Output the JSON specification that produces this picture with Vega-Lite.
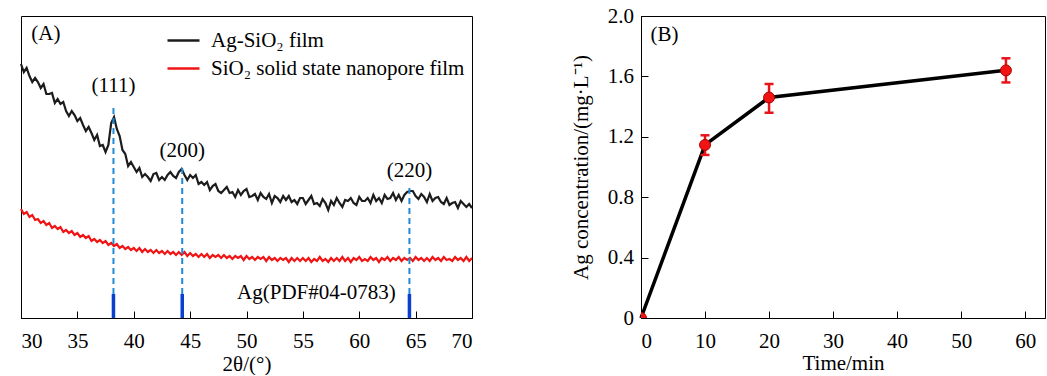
{
"$schema":"https://vega.github.io/schema/vega-lite/v6.json",
"padding":{"left":16,"top":4,"right":0,"bottom":0},
"spacing":92,
"config":{"font":"Liberation Serif","view":{"stroke":"black","strokeWidth":1},
"axis":{"labelFont":"Liberation Serif","labelFontSize":21,"labelColor":"black","titleFont":"Liberation Serif","titleFontSize":21,"titleFontWeight":"normal","titleColor":"black","domainColor":"black","tickColor":"black","grid":false,"tickSize":-7,"titlePadding":4},
"axisX":{"labelPadding":19},
"axisY":{"labelPadding":14.5},
"text":{"font":"Liberation Serif","fontSize":21,"color":"black"}},
"hconcat":[
{"width":451,"height":302,
"data":{"values":[{"pos":38.2,"b":0,"lo":24,"hi":214,"ly":232,"lab":"(111)"},{"pos":44.3,"b":0,"lo":24,"hi":150,"ly":167,"lab":"(200)"},{"pos":64.45,"b":0,"lo":24,"hi":134,"ly":147,"lab":"(220)"}]},
"layer":[
{"data":{"values":[
{"x":30,"Ag":254,"Si":109},{"x":30.25,"Ag":246,"Si":104},{"x":30.5,"Ag":250,"Si":106},{"x":30.75,"Ag":242,"Si":101},
{"x":31,"Ag":236,"Si":103},{"x":31.25,"Ag":240,"Si":98},{"x":31.5,"Ag":236,"Si":99},{"x":31.75,"Ag":230,"Si":95},
{"x":32,"Ag":234,"Si":97},{"x":32.25,"Ag":224,"Si":93},{"x":32.5,"Ag":224,"Si":95},{"x":32.75,"Ag":225,"Si":90},
{"x":33,"Ag":215,"Si":92},{"x":33.25,"Ag":219,"Si":89},{"x":33.5,"Ag":214,"Si":91},{"x":33.75,"Ag":216,"Si":86},
{"x":34,"Ag":207,"Si":88},{"x":34.25,"Ag":202,"Si":85},{"x":34.5,"Ag":207,"Si":87},{"x":34.75,"Ag":203,"Si":83},
{"x":35,"Ag":197,"Si":85},{"x":35.25,"Ag":200,"Si":81},{"x":35.5,"Ag":193,"Si":83},{"x":35.75,"Ag":187,"Si":80},
{"x":36,"Ag":191,"Si":82},{"x":36.25,"Ag":185,"Si":77},{"x":36.5,"Ag":178,"Si":79},{"x":36.75,"Ag":183,"Si":76},
{"x":37,"Ag":172,"Si":78},{"x":37.25,"Ag":173,"Si":75},{"x":37.5,"Ag":166,"Si":77},{"x":37.75,"Ag":173,"Si":73},
{"x":38,"Ag":195,"Si":75},{"x":38.25,"Ag":201,"Si":72},{"x":38.5,"Ag":189,"Si":74},{"x":38.75,"Ag":182,"Si":70},
{"x":39,"Ag":168,"Si":72},{"x":39.25,"Ag":164,"Si":69},{"x":39.5,"Ag":152,"Si":71},{"x":39.75,"Ag":156,"Si":68},
{"x":40,"Ag":151,"Si":70},{"x":40.25,"Ag":146,"Si":67},{"x":40.5,"Ag":150,"Si":70},{"x":40.75,"Ag":141,"Si":66},
{"x":41,"Ag":144,"Si":69},{"x":41.25,"Ag":141,"Si":66},{"x":41.5,"Ag":137,"Si":68},{"x":41.75,"Ag":144,"Si":65},
{"x":42,"Ag":145,"Si":68},{"x":42.25,"Ag":138,"Si":65},{"x":42.5,"Ag":141,"Si":67},{"x":42.75,"Ag":138,"Si":64},
{"x":43,"Ag":143,"Si":67},{"x":43.25,"Ag":146,"Si":64},{"x":43.5,"Ag":142,"Si":66},{"x":43.75,"Ag":140,"Si":63},
{"x":44,"Ag":146,"Si":66},{"x":44.25,"Ag":149,"Si":63},{"x":44.5,"Ag":143,"Si":66},{"x":44.75,"Ag":138,"Si":62},
{"x":45,"Ag":143,"Si":65},{"x":45.25,"Ag":140,"Si":62},{"x":45.5,"Ag":143,"Si":64},{"x":45.75,"Ag":134,"Si":61},
{"x":46,"Ag":136,"Si":64},{"x":46.25,"Ag":133,"Si":61},{"x":46.5,"Ag":136,"Si":64},{"x":46.75,"Ag":128,"Si":60},
{"x":47,"Ag":132,"Si":63},{"x":47.25,"Ag":134,"Si":61},{"x":47.5,"Ag":127,"Si":63},{"x":47.75,"Ag":125,"Si":60},
{"x":48,"Ag":128,"Si":63},{"x":48.25,"Ag":131,"Si":60},{"x":48.5,"Ag":125,"Si":62},{"x":48.75,"Ag":126,"Si":59},
{"x":49,"Ag":121,"Si":62},{"x":49.25,"Ag":128,"Si":60},{"x":49.5,"Ag":123,"Si":62},{"x":49.75,"Ag":127,"Si":58},
{"x":50,"Ag":129,"Si":62},{"x":50.25,"Ag":121,"Si":59},{"x":50.5,"Ag":122,"Si":61},{"x":50.75,"Ag":124,"Si":58},
{"x":51,"Ag":118,"Si":61},{"x":51.25,"Ag":125,"Si":59},{"x":51.5,"Ag":121,"Si":61},{"x":51.75,"Ag":119,"Si":57},
{"x":52,"Ag":124,"Si":61},{"x":52.25,"Ag":115,"Si":58},{"x":52.5,"Ag":122,"Si":60},{"x":52.75,"Ag":120,"Si":57},
{"x":53,"Ag":116,"Si":60},{"x":53.25,"Ag":122,"Si":58},{"x":53.5,"Ag":118,"Si":60},{"x":53.75,"Ag":122,"Si":56},
{"x":54,"Ag":116,"Si":60},{"x":54.25,"Ag":118,"Si":57},{"x":54.5,"Ag":114,"Si":60},{"x":54.75,"Ag":120,"Si":57},
{"x":55,"Ag":120,"Si":60},{"x":55.25,"Ag":114,"Si":57},{"x":55.5,"Ag":118,"Si":60},{"x":55.75,"Ag":122,"Si":56},
{"x":56,"Ag":114,"Si":59},{"x":56.25,"Ag":115,"Si":57},{"x":56.5,"Ag":112,"Si":61},{"x":56.75,"Ag":119,"Si":57},
{"x":57,"Ag":115,"Si":59},{"x":57.25,"Ag":108,"Si":56},{"x":57.5,"Ag":117,"Si":60},{"x":57.75,"Ag":113,"Si":57},
{"x":58,"Ag":120,"Si":60},{"x":58.25,"Ag":115,"Si":57},{"x":58.5,"Ag":111,"Si":61},{"x":58.75,"Ag":118,"Si":57},
{"x":59,"Ag":117,"Si":60},{"x":59.25,"Ag":120,"Si":56},{"x":59.5,"Ag":115,"Si":60},{"x":59.75,"Ag":113,"Si":58},
{"x":60,"Ag":121,"Si":61},{"x":60.25,"Ag":117,"Si":57},{"x":60.5,"Ag":117,"Si":59},{"x":60.75,"Ag":120,"Si":57},
{"x":61,"Ag":115,"Si":61},{"x":61.25,"Ag":123,"Si":58},{"x":61.5,"Ag":117,"Si":60},{"x":61.75,"Ag":120,"Si":56},
{"x":62,"Ag":115,"Si":60},{"x":62.25,"Ag":123,"Si":58},{"x":62.5,"Ag":119,"Si":61},{"x":62.75,"Ag":120,"Si":57},
{"x":63,"Ag":125,"Si":60},{"x":63.25,"Ag":118,"Si":58},{"x":63.5,"Ag":123,"Si":61},{"x":63.75,"Ag":117,"Si":57},
{"x":64,"Ag":123,"Si":60},{"x":64.25,"Ag":126,"Si":58},{"x":64.5,"Ag":127,"Si":60},{"x":64.75,"Ag":127,"Si":57},
{"x":65,"Ag":122,"Si":61},{"x":65.25,"Ag":119,"Si":58},{"x":65.5,"Ag":124,"Si":60},{"x":65.75,"Ag":121,"Si":57},
{"x":66,"Ag":116,"Si":60},{"x":66.25,"Ag":124,"Si":57},{"x":66.5,"Ag":117,"Si":61},{"x":66.75,"Ag":120,"Si":58},
{"x":67,"Ag":121,"Si":60},{"x":67.25,"Ag":116,"Si":57},{"x":67.5,"Ag":114,"Si":61},{"x":67.75,"Ag":120,"Si":58},
{"x":68,"Ag":113,"Si":59},{"x":68.25,"Ag":115,"Si":57},{"x":68.5,"Ag":116,"Si":61},{"x":68.75,"Ag":110,"Si":58},
{"x":69,"Ag":117,"Si":60},{"x":69.25,"Ag":114,"Si":57},{"x":69.5,"Ag":111,"Si":61},{"x":69.75,"Ag":114,"Si":57},
{"x":70,"Ag":110,"Si":60}]},
"transform":[{"fold":["Ag","Si"],"as":["k","v"]}],
"mark":{"type":"line","strokeWidth":2.2},
"encoding":{
"x":{"field":"x","type":"quantitative","scale":{"domain":[30,70],"nice":false},"axis":{"values":[30,35,40,45,50,55,60,65,70],"title":"2θ/(°)","titlePadding":2}},
"y":{"field":"v","type":"quantitative","scale":{"domain":[0,302],"nice":false},"axis":null},
"color":{"field":"k","type":"nominal","scale":{"domain":["Ag","Si"],"range":["#1c1c1c","#f01414"]},
"legend":{"title":null,"orient":"none","legendX":145,"legendY":7,"symbolType":"stroke","symbolSize":1024,"symbolStrokeWidth":2.5,"labelFontSize":21,"labelFont":"Liberation Serif","labelColor":"black","labelOffset":10,"labelLimit":500,"rowPadding":-6,"padding":0,
"labelExpr":"datum.label == 'Ag' ? 'Ag-SiO₂ film' : 'SiO₂ solid state nanopore film'"}}}},
{"mark":{"type":"rule","strokeDash":[6,4],"strokeWidth":2,"color":"#1f8ad6"},
"encoding":{"x":{"field":"pos","type":"quantitative"},"y":{"field":"lo","type":"quantitative","axis":null},"y2":{"field":"hi"}}},
{"mark":{"type":"rule","strokeWidth":3.5,"color":"#0a3fd0"},
"encoding":{"x":{"field":"pos","type":"quantitative"},"y":{"field":"b","type":"quantitative","axis":null},"y2":{"field":"lo"}}},
{"mark":{"type":"text","align":"center","baseline":"middle"},
"encoding":{"x":{"field":"pos","type":"quantitative"},"y":{"field":"ly","type":"quantitative","axis":null},"text":{"field":"lab"}}},
{"data":{"values":[{"x":32.2,"y":284,"t":"(A)"},{"x":56.2,"y":25,"t":"Ag(PDF#04-0783)"}]},
"mark":{"type":"text","align":"center","baseline":"middle"},
"encoding":{"x":{"field":"x","type":"quantitative"},"y":{"field":"y","type":"quantitative","axis":null},"text":{"field":"t"}}}
]},
{"width":404,"height":302,
"data":{"values":[{"t":0,"c":0,"lo":0,"hi":0},{"t":10,"c":1.146,"lo":1.08,"hi":1.21},{"t":20,"c":1.46,"lo":1.36,"hi":1.55},{"t":57,"c":1.64,"lo":1.56,"hi":1.72}]},
"layer":[
{"mark":{"type":"line","color":"black","strokeWidth":3.5},
"encoding":{"x":{"field":"t","type":"quantitative","scale":{"domain":[0,63.1],"nice":false},"axis":{"values":[0,10,20,30,40,50,60],"title":"Time/min","titlePadding":1}},
"y":{"field":"c","type":"quantitative","scale":{"domain":[0,2],"nice":false},"axis":{"values":[0,0.4,0.8,1.2,1.6,2.0],"labelExpr":"datum.value == 0 ? '0' : format(datum.value, '.1f')","title":"Ag concentration/(mg·L⁻¹)","titlePadding":16}}}},
{"transform":[{"filter":"datum.t > 0"}],
"mark":{"type":"rule","color":"#e8141b","strokeWidth":2.5},
"encoding":{"x":{"field":"t","type":"quantitative"},"y":{"field":"lo","type":"quantitative"},"y2":{"field":"hi"}}},
{"transform":[{"filter":"datum.t > 0"},{"fold":["lo","hi"],"as":["e","ev"]}],
"mark":{"type":"tick","orient":"horizontal","color":"#e8141b","thickness":2.5,"size":9,"opacity":1},
"encoding":{"x":{"field":"t","type":"quantitative"},"y":{"field":"ev","type":"quantitative"}}},
{"mark":{"type":"point","shape":"circle","filled":true,"size":120,"color":"#f01414","stroke":"#b00000","strokeWidth":1,"opacity":1,"clip":true},
"encoding":{"x":{"field":"t","type":"quantitative"},"y":{"field":"c","type":"quantitative"}}},
{"data":{"values":[{"x":3.67,"y":1.874,"t":"(B)"}]},
"mark":{"type":"text","align":"center","baseline":"middle"},
"encoding":{"x":{"field":"x","type":"quantitative"},"y":{"field":"y","type":"quantitative"},"text":{"field":"t"}}}
]}
]}
